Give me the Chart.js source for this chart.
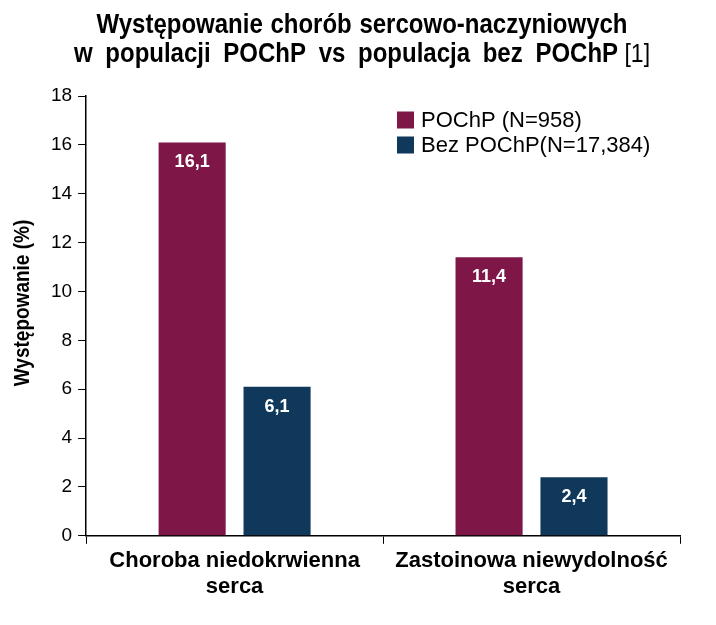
<!DOCTYPE html>
<html>
<head>
<meta charset="utf-8">
<script src="https://cdn.jsdelivr.net/npm/chart.js@4.4.0/dist/chart.umd.min.js"></script>
<style>
  html, body { margin: 0; padding: 0; background: #fff; }
  #wrap { width: 716px; height: 625px; }
</style>
</head>
<body>
<div id="wrap"><canvas id="chart"></canvas></div>
<script>
const categories = [['Choroba niedokrwienna', 'serca'], ['Zastoinowa niewydolność', 'serca']];
const series_names = ['POChP (N=958)', 'Bez POChP(N=17,384)'];
const pochp_values = [16.1, 11.4];
const bez_pochp_values = [6.1, 2.4];
const series_colors = ['#7E1748', '#10385A'];
const title_line1 = 'Występowanie chorób sercowo-naczyniowych';
const title_line2 = 'w populacji POChP vs populacja bez POChP';
const title_ref = ' [1]';
const y_title = 'Występowanie (%)';
const y_max = 18;
const y_step = 2;

const FONT = '"Liberation Sans", Arial, sans-serif';

// draws a line stretched upwards a little (the original used a narrow face)
function tallText(ctx, text, x, y, stretch) {
    ctx.save();
    ctx.translate(x, y);
    ctx.scale(1, stretch);
    ctx.fillText(text, 0, 0);
    ctx.restore();
}

// title with a normal weight reference mark at the end
const titlePlugin = {
    id: 'titlePlugin',
    afterDraw(chart) {
        const ctx = chart.ctx;
        const cx = 362;
        ctx.save();
        ctx.fillStyle = '#000';
        ctx.textBaseline = 'alphabetic';
        ctx.font = 'bold 24px ' + FONT;
        ctx.textAlign = 'center';
        ctx.wordSpacing = '1px';
        tallText(ctx, title_line1, cx, 33, 1.15);
        ctx.wordSpacing = '6px';
        let w1 = ctx.measureText(title_line2).width;
        ctx.font = '23px ' + FONT;
        let w2 = ctx.measureText(title_ref).width;
        let x0 = cx - (w1 + w2) / 2;
        ctx.textAlign = 'left';
        ctx.font = 'bold 24px ' + FONT;
        tallText(ctx, title_line2, x0, 62, 1.15);
        ctx.font = '23px ' + FONT;
        tallText(ctx, title_ref, x0 + w1, 62, 1.15);
        ctx.restore();

        // y axis title, sits a bit above the middle of the axis
        ctx.save();
        ctx.translate(23, 303);
        ctx.rotate(-Math.PI / 2);
        ctx.scale(1, 1.18);
        ctx.font = 'bold 19px ' + FONT;
        ctx.fillStyle = '#000';
        ctx.textAlign = 'center';
        ctx.textBaseline = 'middle';
        ctx.fillText(y_title, 0, 0);
        ctx.restore();
    }
};

// legend placed inside the plot area, top right
const legendPlugin = {
    id: 'legendPlugin',
    afterDraw(chart) {
        const ctx = chart.ctx;
        ctx.save();
        ctx.font = '22px ' + FONT;
        ctx.textBaseline = 'middle';
        ctx.textAlign = 'left';
        chart.data.datasets.forEach((ds, i) => {
            let y = 120 + i * 25;
            ctx.fillStyle = ds.backgroundColor;
            ctx.fillRect(397, y - 8.5, 17, 17);
            ctx.fillStyle = '#000';
            ctx.fillText(ds.label, 421, y + 1);
        });
        ctx.restore();
    }
};

// values written in white inside the top of each bar
const valuePlugin = {
    id: 'valuePlugin',
    afterDatasetsDraw(chart) {
        const ctx = chart.ctx;
        ctx.save();
        ctx.font = 'bold 18px ' + FONT;
        ctx.fillStyle = '#fff';
        ctx.textAlign = 'center';
        ctx.textBaseline = 'middle';
        chart.data.datasets.forEach((ds, i) => {
            chart.getDatasetMeta(i).data.forEach((bar, j) => {
                ctx.fillText(ds.data[j].toFixed(1).replace('.', ','), bar.x, bar.y + 20);
            });
        });
        ctx.restore();
    }
};

const data = {
    labels: categories,
    datasets: [
        {
            label: series_names[0],
            data: pochp_values,
            backgroundColor: series_colors[0],
            categoryPercentage: 0.572,
            barPercentage: 0.79,
        },
        {
            label: series_names[1],
            data: bez_pochp_values,
            backgroundColor: series_colors[1],
            categoryPercentage: 0.572,
            barPercentage: 0.79,
        },
    ]
};

new Chart(document.getElementById('chart').getContext('2d'), {
    type: 'bar',
    data: data,
    options: {
        responsive: true,
        maintainAspectRatio: false,
        animation: false,
        layout: {
            padding: { top: 96, right: 36, left: 45, bottom: 21 }
        },
        plugins: {
            legend: { display: false },
            title: { display: false },
            tooltip: { enabled: false },
        },
        scales: {
            x: {
                grid: {
                    offset: true,
                    drawOnChartArea: false,
                    color: '#000',
                    tickLength: 8,
                },
                border: { color: '#000', width: 1.5 },
                ticks: {
                    color: '#000',
                    font: { family: FONT, size: 22, weight: 'bold', lineHeight: 1.14 },
                    padding: 5,
                    maxRotation: 0,
                },
            },
            y: {
                min: 0,
                max: y_max,
                ticks: {
                    stepSize: y_step,
                    color: '#000',
                    font: { family: FONT, size: 19 },
                    padding: 6,
                },
                grid: {
                    drawOnChartArea: false,
                    color: '#000',
                    tickLength: 8,
                },
                border: { color: '#000', width: 1.5 },
            },
        },
    },
    plugins: [titlePlugin, legendPlugin, valuePlugin],
});
</script>
</body>
</html>
